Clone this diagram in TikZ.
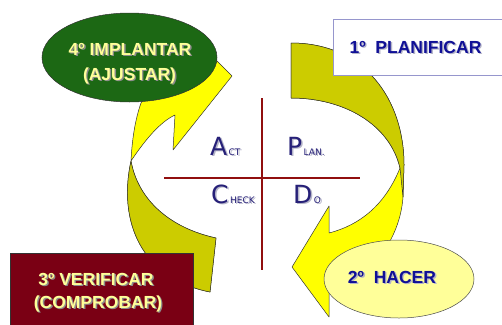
\documentclass[tikz,border=0pt]{standalone}
\usepackage{fontspec}
\setmainfont{Liberation Sans}
\newfontfamily\lblfont{DejaVu Sans}
\usetikzlibrary{shapes.geometric}
\definecolor{olivey}{RGB}{204,204,0}
\definecolor{yel}{RGB}{255,255,0}
\definecolor{lightyel}{RGB}{255,255,153}
\definecolor{darkgreen}{RGB}{28,104,20}
\definecolor{wine}{RGB}{122,0,20}
\definecolor{crossred}{RGB}{145,15,15}
\definecolor{navy2}{RGB}{16,16,150}
\definecolor{indigo2}{RGB}{38,32,120}
\definecolor{boxline}{RGB}{150,150,205}
\definecolor{shgray}{RGB}{140,140,140}
\definecolor{shblue}{RGB}{180,180,200}
\newcommand{\shd}[2]{\leavevmode\rlap{\hspace{1.4pt}\raisebox{-1.4pt}{\color{#2}#1}}#1}
\tikzset{
  ribbon/.style={draw=black!80, line width=0.5pt, line join=round},
  bigtxt/.style={font=\bfseries\fontsize{17.5}{20}\selectfont, anchor=base, inner sep=0pt},
  lblbig/.style={font=\lblfont\fontsize{25}{28}\selectfont, text=indigo2, anchor=base west, inner sep=0pt},
  lblsmall/.style={font=\lblfont\fontsize{9}{10}\selectfont, text=indigo2, anchor=base west, inner sep=0pt, xshift=1pt},
  crossline/.style={draw=crossred, line width=2.6pt},
}
\begin{document}
\begin{tikzpicture}[x=1pt,y=-1pt]
\useasboundingbox (0,0) rectangle (502,324);
\clip (0,0) rectangle (502,324);
% right ribbon (yellow full)
\fill[yel] (291,43) .. controls (365,43) and (404,100) .. (404,165) -- (403,197)
  .. controls (400,240) and (370,280) .. (329,290) -- (329,317) -- (292,267) -- (329,206) -- (329,233)
  .. controls (360,225) and (385,205) .. (400,168)
  .. controls (390,125) and (345,98) .. (291,98) -- cycle;
\draw[ribbon] (291,43) .. controls (365,43) and (404,100) .. (404,165) -- (403,197)
  .. controls (400,240) and (370,280) .. (329,290) -- (329,317) -- (292,267) -- (329,206) -- (329,233)
  .. controls (360,225) and (385,205) .. (400,168)
  .. controls (390,125) and (345,98) .. (291,98) -- cycle;
% right ribbon (olive back)
\filldraw[ribbon, fill=olivey] (291,43) .. controls (365,43) and (404,100) .. (404,165) -- (403,197) -- (400,168)
  .. controls (390,125) and (345,98) .. (291,98) -- cycle;
% left ribbon (yellow full)
\filldraw[ribbon, fill=yel] (216,238) .. controls (170,228) and (138,200) .. (131,161)
  .. controls (145,140) and (160,122) .. (175,115) -- (173,150) -- (232,76) -- (198,42) -- (183,72)
  .. controls (160,85) and (145,95) .. (141,103)
  .. controls (135,120) and (132,140) .. (131,161)
  .. controls (118,220) and (140,278) .. (210,292) -- cycle;
% left ribbon (olive back)
\filldraw[ribbon, fill=olivey] (216,238) .. controls (170,228) and (138,200) .. (131,161)
  .. controls (118,220) and (140,278) .. (210,292) -- cycle;
% shapes
\node[ellipse, draw=black!80, line width=0.5pt, fill=darkgreen, minimum width=175pt, minimum height=89pt, inner sep=0pt] (implant) at (129.5,57.5) {};
\node[ellipse, draw=black!70, line width=0.5pt, fill=lightyel, minimum width=150pt, minimum height=78pt, inner sep=0pt] (hacer) at (399,279) {};
\node[rectangle, draw=boxline, line width=1pt, fill=white, minimum width=170pt, minimum height=56pt, inner sep=0pt] (plan) at (418,47) {};
\node[rectangle, draw=black!80, line width=0.6pt, fill=wine, minimum width=183pt, minimum height=77pt, inner sep=0pt] (verif) at (101.5,291.5) {};
% texts
\node[bigtxt, text=navy2] (plantxt) at (415.5,53) {\shd{1º\ \ PLANIFICAR}{shblue}};
\node[bigtxt, text=navy2] (hacertxt) at (392,283) {\shd{2º\ \ HACER}{shblue}};
\node[bigtxt, text=lightyel] (impl1) at (130,55) {\shd{4º IMPLANTAR}{shgray}};
\node[bigtxt, text=lightyel] (impl2) at (129.5,80) {\shd{(AJUSTAR)}{shgray}};
\node[bigtxt, text=lightyel] (ver1) at (96,285) {\shd{3º VERIFICAR}{shgray}};
\node[bigtxt, text=lightyel] (ver2) at (98,308) {\shd{(COMPROBAR)}{shgray}};
% cross
\coordinate (vt) at (262,98);
\coordinate (vb) at (262,270);
\coordinate (hl) at (164,178);
\coordinate (hr) at (360,178);
\draw[crossline] (vt) -- (vb);
\draw[crossline] (hl) -- (hr);
% PDCA labels
\node[lblbig] (a1) at (210,155) {\shd{A}{shblue}};
\node[lblsmall] (a2) at (a1.base east) {\shd{CT}{shblue}};
\node[lblbig] (p1) at (287,155) {\shd{P}{shblue}};
\node[lblsmall] (p2) at (p1.base east) {\shd{LAN.}{shblue}};
\node[lblbig] (c1) at (211,203) {\shd{C}{shblue}};
\node[lblsmall] (c2) at (c1.base east) {\shd{HECK}{shblue}};
\node[lblbig] (d1) at (293,203) {\shd{D}{shblue}};
\node[lblsmall] (d2) at (d1.base east) {\shd{O}{shblue}};
\end{tikzpicture}
\end{document}
